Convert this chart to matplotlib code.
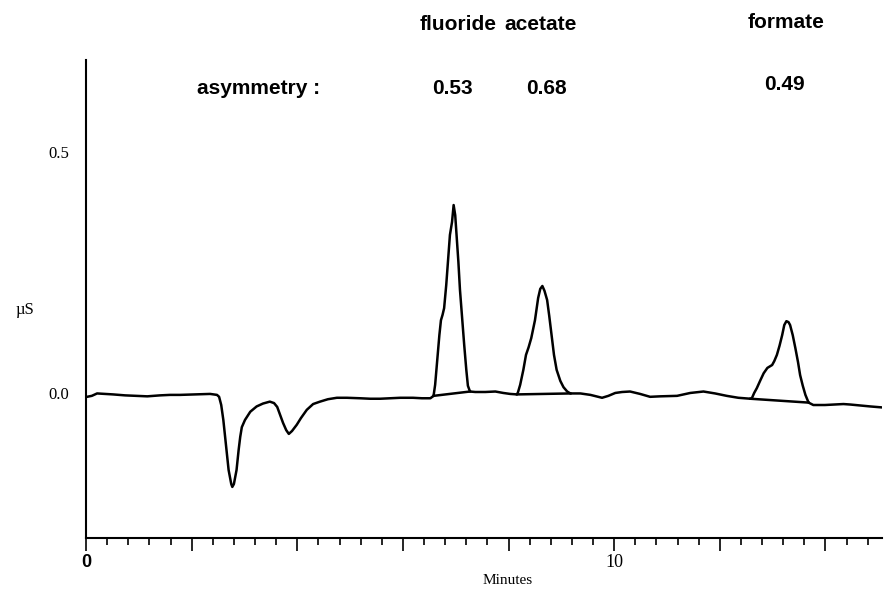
import numpy as np
import matplotlib
matplotlib.use("Agg")
import matplotlib.pyplot as plt

# Chromatogram trace (time in minutes, signal in µS)
time_min = [
    0.02, 0.11, 0.21, 0.36, 0.51, 0.74, 0.93, 1.16, 1.40, 1.59, 1.78, 2.06, 2.35, 2.48,
    2.52, 2.56, 2.60, 2.65, 2.70, 2.75, 2.77, 2.80, 2.85, 2.89, 2.92, 2.95, 3.01, 3.11,
    3.23, 3.35, 3.48, 3.56, 3.62, 3.67, 3.73, 3.79, 3.84, 3.90, 3.99, 4.07, 4.18, 4.30,
    4.43, 4.58, 4.75, 4.94, 5.19, 5.38, 5.57, 5.76, 5.95, 6.19, 6.36, 6.52,
    6.58, 6.61, 6.65, 6.69, 6.72, 6.75, 6.78, 6.82, 6.86, 6.89, 6.93, 6.96, 6.99, 7.02,
    7.05, 7.08, 7.12, 7.16, 7.20, 7.23, 7.27,
    7.37, 7.56, 7.75, 7.90, 8.03, 8.16,
    8.18, 8.22, 8.28, 8.33, 8.38, 8.43, 8.50, 8.56, 8.60, 8.64, 8.68, 8.73, 8.77, 8.82,
    8.86, 8.91, 8.98, 9.04, 9.11, 9.17,
    9.36, 9.55, 9.77, 9.89, 10.02, 10.15, 10.30, 10.49, 10.68, 10.87, 11.19, 11.44,
    11.69, 11.91, 12.13, 12.35, 12.58,
    12.61, 12.65, 12.70, 12.77, 12.83, 12.90, 12.99, 13.03, 13.08, 13.13, 13.18, 13.22,
    13.26, 13.30, 13.33, 13.38, 13.43, 13.48, 13.52, 13.57, 13.62, 13.68,
    13.77, 13.99, 14.34, 14.47, 14.66, 14.85, 15.07,
]
signal_uS = [
    -0.008, -0.006, -0.001, -0.002, -0.003, -0.005, -0.006, -0.007, -0.005, -0.004, -0.004, -0.003, -0.002, -0.004,
    -0.008, -0.025, -0.056, -0.108, -0.160, -0.189, -0.195, -0.189, -0.160, -0.118, -0.091, -0.071, -0.056, -0.039,
    -0.028, -0.022, -0.018, -0.021, -0.029, -0.044, -0.062, -0.077, -0.085, -0.079, -0.066, -0.052, -0.035, -0.023,
    -0.018, -0.013, -0.010, -0.010, -0.011, -0.012, -0.012, -0.011, -0.010, -0.010, -0.011, -0.011,
    -0.006, 0.017, 0.068, 0.120, 0.151, 0.162, 0.176, 0.224, 0.282, 0.328, 0.355, 0.390, 0.369, 0.322,
    0.272, 0.214, 0.156, 0.100, 0.048, 0.015, 0.003,
    0.002, 0.002, 0.003, 0.000, -0.002, -0.003,
    0.002, 0.017, 0.048, 0.079, 0.095, 0.114, 0.151, 0.197, 0.216, 0.222, 0.212, 0.193, 0.160, 0.116,
    0.079, 0.048, 0.025, 0.012, 0.003, -0.001,
    -0.001, -0.004, -0.010, -0.006, 0.000, 0.002, 0.003, -0.002, -0.008, -0.007, -0.006, 0.000,
    0.003, -0.001, -0.006, -0.010, -0.012,
    -0.010, 0.000, 0.010, 0.027, 0.041, 0.052, 0.058, 0.066, 0.079, 0.098, 0.120, 0.141,
    0.149, 0.147, 0.141, 0.120, 0.093, 0.064, 0.037, 0.015, -0.004, -0.020,
    -0.025, -0.025, -0.023, -0.024, -0.026, -0.028, -0.030,
]

# Integration baselines drawn under the peaks
peak_names = ["fluoride", "acetate", "formate"]
asymmetry = ["0.53", "0.68", "0.49"]
base_start_t = [6.58, 8.16, 12.58]
base_start_v = [-0.006, -0.003, -0.012]
base_end_t = [7.27, 9.17, 13.68]
base_end_v = [0.003, -0.001, -0.020]

x_major = [0, 2, 4, 6, 8, 10, 12, 14]
x_labels = ["0", "", "", "", "", "10", "", ""]
y_ticks = [0.0, 0.5]
y_labels = ["0.0", "0.5"]

W, H = 884, 594
fig = plt.figure(figsize=(W / 100, H / 100), dpi=100)
ax = fig.add_axes([86 / W, 1 - 538 / H, (882 - 86) / W, (538 - 60) / H])

ax.plot(time_min, signal_uS, color="black", lw=1.8, solid_joinstyle="round")
for t0, v0, t1, v1 in zip(base_start_t, base_start_v, base_end_t, base_end_v):
    ax.plot([t0, t1], [v0, v1], color="black", lw=1.8)

ax.set_xlim(0, 15.07)
ax.set_ylim(-0.301, 0.691)

for s in ["top", "right"]:
    ax.spines[s].set_visible(False)
for s in ["left", "bottom"]:
    ax.spines[s].set_linewidth(1.5)

ax.set_xticks(x_major)
ax.set_xticklabels(x_labels)
ax.set_xticks(np.arange(0, 15.1, 0.4), minor=True)
ax.tick_params(axis="x", which="major", length=9.5, width=1.2, direction="out", pad=2)
ax.tick_params(axis="x", which="minor", length=5, width=1.2, direction="out")
for lbl in ax.get_xticklabels():
    if lbl.get_text() == "0":
        lbl.set_fontfamily("Liberation Sans")
        lbl.set_fontweight("bold")
        lbl.set_fontsize(13)
    else:
        lbl.set_fontfamily("Liberation Serif")
        lbl.set_fontsize(13)

ax.set_yticks(y_ticks)
ax.set_yticklabels(y_labels, fontfamily="Liberation Serif", fontsize=12)
ax.tick_params(axis="y", length=0, pad=12)

fig.text(25 / W, 1 - 310 / H, "µS", family="Liberation Serif", fontsize=12,
         ha="center", va="center")
fig.text(508 / W, 1 - 581 / H, "Minutes", family="Liberation Serif", fontsize=11,
         ha="center", va="center")

# Peak annotations (in figure pixels above the plot)
name_x = [458, 541, 786]
name_y = [25, 25, 22]
asym_x = [452, 546, 784]
asym_y = [88, 88, 85]
txt_kw = dict(family="Liberation Sans", fontweight="bold", fontsize=15,
              ha="center", va="center")
for n, x, y in zip(peak_names, name_x, name_y):
    fig.text(x / W, 1 - y / H, n, **txt_kw)
for a, x, y in zip(asymmetry, asym_x, asym_y):
    fig.text(x / W, 1 - y / H, a, **txt_kw)
fig.text(259 / W, 1 - 88 / H, "asymmetry :", **txt_kw)

fig.savefig("out.png", dpi=100)
